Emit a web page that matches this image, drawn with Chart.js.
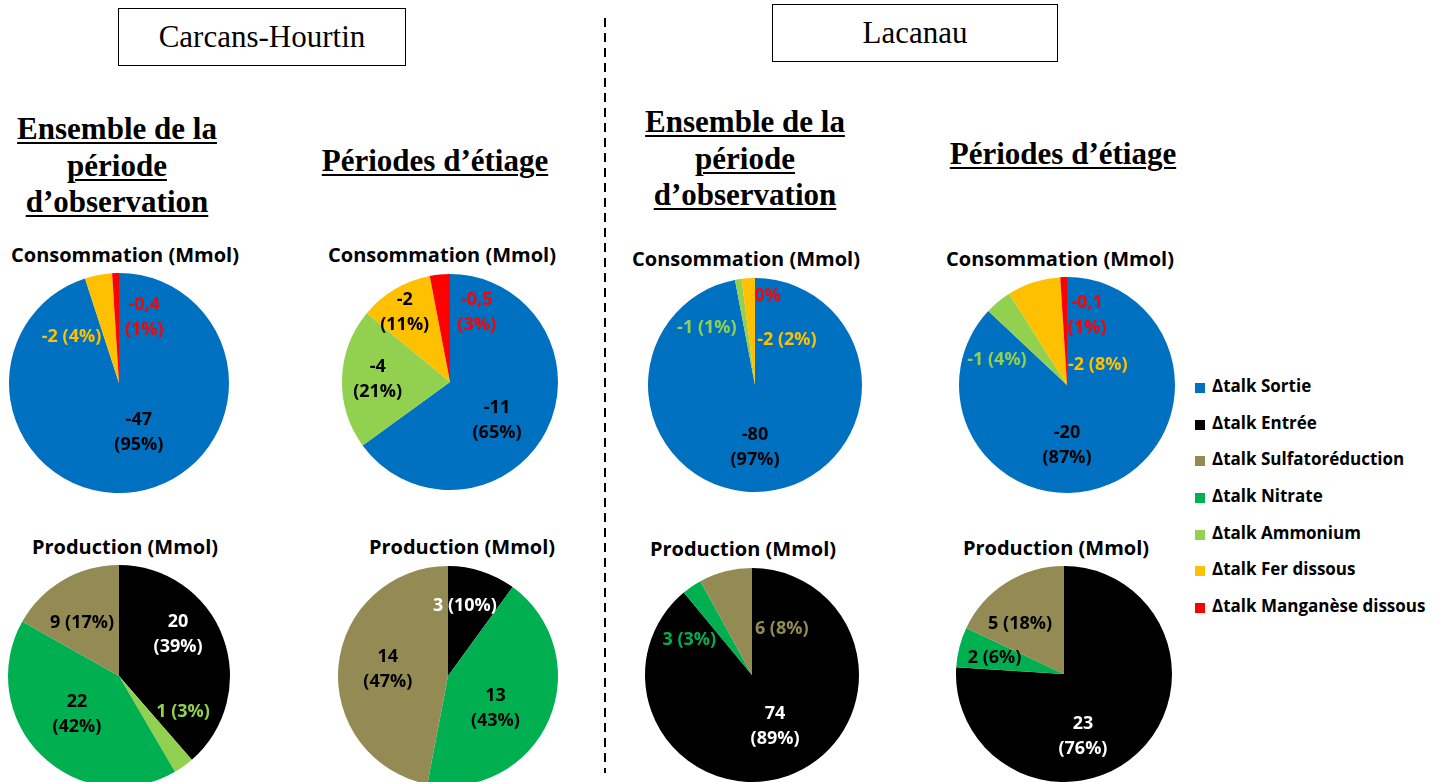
<!DOCTYPE html>
<html lang="fr">
<head>
<meta charset="utf-8">
<title>Bilan d'alcalinité</title>
<script src="https://cdn.jsdelivr.net/npm/chart.js@4.4.1/dist/chart.umd.min.js"></script>
<style>
  html, body { margin: 0; padding: 0; background: #fff; }
  #page { position: relative; width: 1448px; height: 782px; overflow: hidden; background: #fff; }
  .site {
    position: absolute; box-sizing: border-box; border: 1.5px solid #000;
    font-family: "Liberation Serif", "Times New Roman", serif; font-size: 31px;
    text-align: center; color: #000;
  }
  .period {
    position: absolute; width: 300px; text-align: center; white-space: nowrap;
    font-family: "Liberation Serif", "Times New Roman", serif; font-weight: bold;
    font-size: 31px; line-height: 36.5px; color: #000;
    text-decoration: underline; text-decoration-thickness: 2px; text-underline-offset: 3px;
  }
  .ptitle {
    position: absolute; width: 280px; height: 30px; line-height: 30px; text-align: center;
    font-family: "Open Sans", sans-serif; font-weight: bold; font-size: 20px;
    white-space: nowrap; color: #000;
  }
  .pie { position: absolute; }
  #divider {
    position: absolute; left: 604px; top: 18px; width: 1.5px; height: 755px;
    background: repeating-linear-gradient(to bottom, #000 0 9px, transparent 9px 15px);
  }
  #legend { position: absolute; left: 1195px; top: 372px; }
  #legend div {
    height: 36.7px; line-height: 28px; white-space: nowrap;
    font-family: "Open Sans", sans-serif; font-weight: bold; font-size: 17px; color: #000;
  }
  #legend span {
    display: inline-block; width: 10px; height: 10px; margin-right: 7px; vertical-align: -1px;
  }
</style>
</head>
<body>
<div id="page">
  <div class="site" style="left:118px;top:8px;width:288px;height:58px;line-height:55px;">Carcans-Hourtin</div>
  <div class="site" style="left:772px;top:4px;width:286px;height:58px;line-height:55px;">Lacanau</div>

  <div class="period" style="left:-33px;top:111px;">Ensemble de la<br>période<br>d’observation</div>
  <div class="period" style="left:285px;top:143px;">Périodes d’étiage</div>
  <div class="period" style="left:595px;top:104px;">Ensemble de la<br>période<br>d’observation</div>
  <div class="period" style="left:913px;top:136px;">Périodes d’étiage</div>

  <div id="divider"></div>
  <div id="legend"></div>
</div>

<script>
// legend order and slice colours
const legendCategories = [
  "Δtalk Sortie", "Δtalk Entrée", "Δtalk Sulfatoréduction", "Δtalk Nitrate",
  "Δtalk Ammonium", "Δtalk Fer dissous", "Δtalk Manganèse dissous"
];
const legendColors = ["#0070C0", "#000000", "#948A54", "#00B050", "#92D050", "#FFC000", "#FF0000"];

// slice order of the consumption pies (clockwise from 12 o'clock)
const consoCategories = ["Δtalk Sortie", "Δtalk Ammonium", "Δtalk Fer dissous", "Δtalk Manganèse dissous"];
// slice order of the production pies
const prodCategories = ["Δtalk Entrée", "Δtalk Ammonium", "Δtalk Nitrate", "Δtalk Sulfatoréduction"];

// Carcans-Hourtin - ensemble de la période
const chTotalConsoMmol = [-47, 0, -2, -0.4];
const chTotalConsoPct = [95, 0, 4, 1];
const chTotalProdMmol = [20, 1, 22, 9];
const chTotalProdPct = [39, 3, 42, 17];

// Carcans-Hourtin - périodes d'étiage
const chEtiageConsoMmol = [-11, -4, -2, -0.5];
const chEtiageConsoPct = [65, 21, 11, 3];
const chEtiageProdMmol = [3, 0, 13, 14];
const chEtiageProdPct = [10, 0, 43, 47];

// Lacanau - ensemble de la période
const laTotalConsoMmol = [-80, -1, -2, 0];
const laTotalConsoPct = [97, 1, 2, 0];
const laTotalProdMmol = [74, 0, 3, 6];
const laTotalProdPct = [89, 0, 3, 8];

// Lacanau - périodes d'étiage
const laEtiageConsoMmol = [-20, -1, -2, -0.1];
const laEtiageConsoPct = [87, 4, 8, 1];
const laEtiageProdMmol = [23, 0, 2, 5];
const laEtiageProdPct = [76, 0, 6, 18];

const colorOf = name => legendColors[legendCategories.indexOf(name)];

// legend
const legend = document.getElementById("legend");
legendCategories.forEach((name, i) => {
  const row = document.createElement("div");
  row.innerHTML = `<span style="background:${legendColors[i]}"></span>${name}`;
  legend.appendChild(row);
});

// data labels: angle (deg, clockwise from top) and distance (fraction of radius)
const sliceLabels = {
  id: "sliceLabels",
  afterDatasetsDraw(chart, args, opts) {
    const ds = chart.data.datasets[0];
    const arcs = chart.getDatasetMeta(0).data;
    const ctx = chart.ctx;
    ctx.save();
    ctx.font = 'bold 18px "Open Sans", sans-serif';
    ctx.textAlign = "center";
    ctx.textBaseline = "middle";
    opts.items.forEach((it, i) => {
      if (!it) return;
      const arc = arcs[i];
      const ang = (it.a - 90) * Math.PI / 180;
      const x = arc.x + Math.cos(ang) * it.d * arc.outerRadius;
      const y = arc.y + Math.sin(ang) * it.d * arc.outerRadius;
      const val = String(ds.mmol[i]).replace(".", ",");
      const pct = `(${ds.data[i]}%)`;
      ctx.fillStyle = it.color;
      if (it.lines === 0) {
        ctx.fillText(`${ds.data[i]}%`, x, y);
      } else if (it.lines === 1) {
        ctx.fillText(`${val} ${pct}`, x, y);
      } else {
        ctx.fillText(val, x, y - 12.5);
        ctx.fillText(pct, x, y + 12.5);
      }
    });
    ctx.restore();
  }
};

const pies = [
  { cx: 119, cy: 383, r: 110, title: "Consommation (Mmol)", tx: 125, ty: 256,
    cats: consoCategories, mmol: chTotalConsoMmol, pct: chTotalConsoPct,
    labels: [
      { a: 158, d: 0.48, lines: 2, color: "#000" },
      null,
      { a: 314, d: 0.60, lines: 1, color: "#FFC000" },
      { a: 21, d: 0.64, lines: 2, color: "#FF0000" }
    ] },
  { cx: 450, cy: 382, r: 108, title: "Consommation (Mmol)", tx: 442, ty: 256,
    cats: consoCategories, mmol: chEtiageConsoMmol, pct: chEtiageConsoPct,
    labels: [
      { a: 129, d: 0.56, lines: 2, color: "#000" },
      { a: 272, d: 0.67, lines: 2, color: "#000" },
      { a: 327, d: 0.77, lines: 2, color: "#000" },
      { a: 21, d: 0.69, lines: 2, color: "#FF0000" }
    ] },
  { cx: 755, cy: 385, r: 107, title: "Consommation (Mmol)", tx: 746, ty: 260,
    cats: consoCategories, mmol: laTotalConsoMmol, pct: laTotalConsoPct,
    labels: [
      { a: 180, d: 0.58, lines: 2, color: "#000" },
      { a: 320, d: 0.70, lines: 1, color: "#92D050" },
      { a: 35, d: 0.52, lines: 1, color: "#FFC000" },
      { a: 8, d: 0.84, lines: 0, color: "#FF0000" }
    ] },
  { cx: 1067, cy: 385, r: 108, title: "Consommation (Mmol)", tx: 1060, ty: 260,
    cats: consoCategories, mmol: laEtiageConsoMmol, pct: laEtiageConsoPct,
    labels: [
      { a: 180, d: 0.56, lines: 2, color: "#000" },
      { a: 290, d: 0.69, lines: 1, color: "#92D050" },
      { a: 57, d: 0.34, lines: 1, color: "#FFC000" },
      { a: 16, d: 0.67, lines: 2, color: "#FF0000" }
    ] },
  { cx: 119, cy: 676, r: 111, title: "Production (Mmol)", tx: 125, ty: 548,
    cats: prodCategories, mmol: chTotalProdMmol, pct: chTotalProdPct,
    labels: [
      { a: 55, d: 0.65, lines: 2, color: "#fff" },
      { a: 119, d: 0.66, lines: 1, color: "#92D050" },
      { a: 228, d: 0.51, lines: 2, color: "#000" },
      { a: 325, d: 0.58, lines: 1, color: "#000" }
    ] },
  { cx: 448, cy: 676, r: 110, title: "Production (Mmol)", tx: 462, ty: 548,
    cats: prodCategories, mmol: chEtiageProdMmol, pct: chEtiageProdPct,
    labels: [
      { a: 13.5, d: 0.66, lines: 1, color: "#fff" },
      null,
      { a: 124, d: 0.52, lines: 2, color: "#000" },
      { a: 276, d: 0.55, lines: 2, color: "#000" }
    ] },
  { cx: 752, cy: 675, r: 107, title: "Production (Mmol)", tx: 743, ty: 550,
    cats: prodCategories, mmol: laTotalProdMmol, pct: laTotalProdPct,
    labels: [
      { a: 156, d: 0.53, lines: 2, color: "#fff" },
      null,
      { a: 299, d: 0.67, lines: 1, color: "#00B050" },
      { a: 33, d: 0.51, lines: 1, color: "#948A54" }
    ] },
  { cx: 1064, cy: 674, r: 108, title: "Production (Mmol)", tx: 1056, ty: 549,
    cats: prodCategories, mmol: laEtiageProdMmol, pct: laEtiageProdPct,
    labels: [
      { a: 163, d: 0.60, lines: 2, color: "#fff" },
      null,
      { a: 283, d: 0.66, lines: 1, color: "#000" },
      { a: 319, d: 0.62, lines: 1, color: "#000" }
    ] }
];

const page = document.getElementById("page");
const pad = 2;

pies.forEach(p => {
  const title = document.createElement("div");
  title.className = "ptitle";
  title.textContent = p.title;
  title.style.left = (p.tx - 140) + "px";
  title.style.top = (p.ty - 16) + "px";
  page.appendChild(title);

  const size = 2 * (p.r + pad);
  const canvas = document.createElement("canvas");
  canvas.className = "pie";
  canvas.width = size;
  canvas.height = size;
  canvas.style.left = (p.cx - p.r - pad) + "px";
  canvas.style.top = (p.cy - p.r - pad) + "px";
  page.appendChild(canvas);

  new Chart(canvas, {
    type: "pie",
    data: {
      labels: p.cats,
      datasets: [{
        data: p.pct,
        mmol: p.mmol,
        backgroundColor: p.cats.map(colorOf),
        borderWidth: 0,
        hoverOffset: 0
      }]
    },
    options: {
      responsive: false,
      animation: false,
      events: [],
      layout: { padding: pad },
      plugins: {
        legend: { display: false },
        tooltip: { enabled: false },
        sliceLabels: { items: p.labels }
      }
    },
    plugins: [sliceLabels]
  });
});
</script>
</body>
</html>
